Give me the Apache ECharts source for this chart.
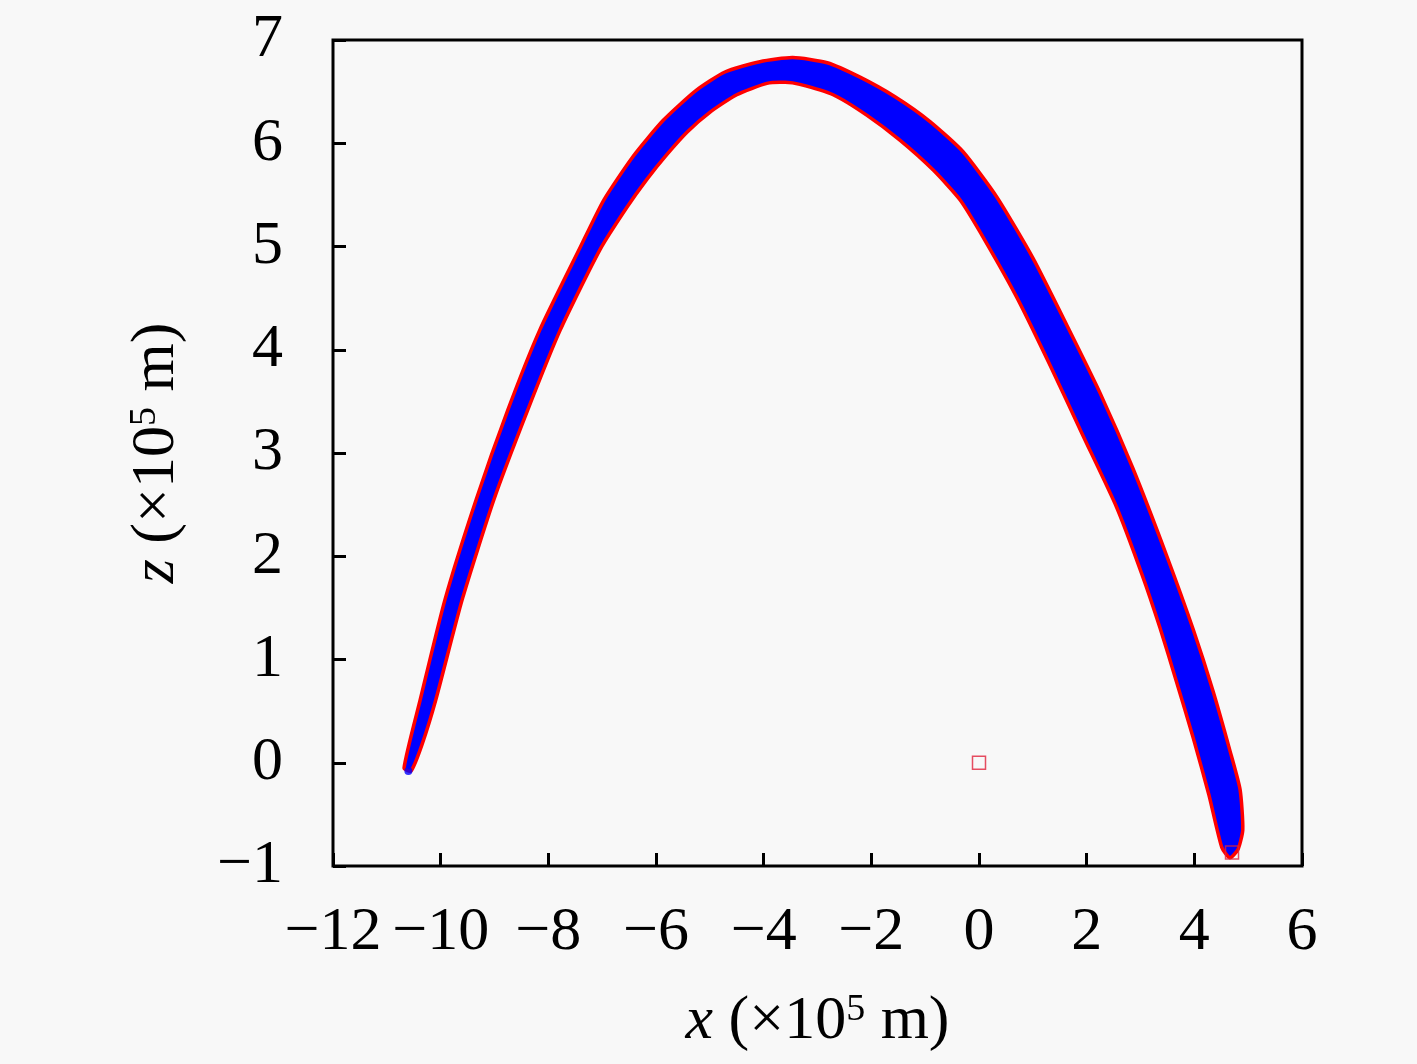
<!DOCTYPE html>
<html>
<head>
<meta charset="utf-8">
<script src="https://cdn.jsdelivr.net/npm/echarts@6/dist/echarts.min.js"></script>
<style>
html,body{margin:0;padding:0;background:#f8f8f8;}
#chart{width:1417px;height:1064px;}
</style>
</head>
<body>
<div id="chart"></div>
<script>
// Axis ticks
const xTicks = [-12, -10, -8, -6, -4, -2, 0, 2, 4, 6];
const zTicks = [-1, 0, 1, 2, 3, 4, 5, 6, 7];

// Outer boundary of the trajectory band (left tip -> apex -> right tip), units of 1e5 m
const outerX = [-10.68,-10.38,-9.92,-9.34,-8.75,-8.16,-7.41,-6.97,-6.43,-5.87,-5.26,-4.72,-4.07,-3.46,-2.82,-2.21,-1.56,-0.91,-0.30,0.33,1.00,1.63,2.25,2.86,3.49,3.98,4.35,4.66,4.85,4.90,4.81,4.66];
const outerZ = [-0.05,0.61,1.58,2.55,3.42,4.19,4.99,5.45,5.87,6.22,6.51,6.69,6.79,6.83,6.78,6.64,6.45,6.21,5.92,5.48,4.89,4.24,3.58,2.85,2.00,1.29,0.69,0.12,-0.26,-0.65,-0.84,-0.92];

// Inner boundary of the band (right tip -> apex -> left tip)
const innerX = [4.51,4.27,3.98,3.66,3.36,3.03,2.56,1.93,1.32,0.71,0.11,-0.35,-0.85,-1.47,-2.08,-2.71,-3.33,-3.60,-3.94,-4.50,-5.00,-5.42,-5.80,-6.17,-6.54,-7.04,-7.78,-8.38,-9.01,-9.60,-10.09,-10.35,-10.55];
const innerZ = [-0.82,-0.31,0.24,0.80,1.31,1.82,2.47,3.17,3.85,4.50,5.06,5.45,5.74,6.03,6.27,6.47,6.57,6.59,6.58,6.47,6.30,6.11,5.89,5.65,5.38,4.97,4.19,3.42,2.55,1.58,0.61,0.17,-0.08];

// Marker points
const squarePts = [[0, 0], [4.70, -0.87]];
const startPt = [[-10.60, -0.08]];

const bandData = [];
for (let i = 0; i < outerX.length; i++) bandData.push([outerX[i], outerZ[i]]);
for (let i = 0; i < innerX.length; i++) bandData.push([innerX[i], innerZ[i]]);

const FONT = '"Liberation Serif", "DejaVu Serif", serif';
const fmt = v => (v < 0 ? '\u2212' + Math.abs(v) : String(v));

const chart = echarts.init(document.getElementById('chart'), null, {renderer: 'canvas'});
const nameRich = {
  i: {fontStyle: 'italic', fontFamily: FONT, fontSize: 62, color: '#000'},
  s: {fontSize: 38, fontFamily: FONT, color: '#000', verticalAlign: 'top', padding: [0, 0, 18, 0]}
};
const option = {
  backgroundColor: '#f8f8f8',
  animation: false,
  grid: {left: 333, right: 115, top: 40, bottom: 198, containLabel: false,
         show: true, borderColor: '#000', borderWidth: 3, backgroundColor: 'transparent'},
  xAxis: {
    type: 'value', min: -12, max: 6, interval: 2,
    axisLine: {show: false, onZero: false},
    axisTick: {show: true, inside: true, length: 13, lineStyle: {color: '#000', width: 3}},
    splitLine: {show: false},
    axisLabel: {show: true, margin: 36, color: '#000', fontFamily: FONT, fontSize: 62,
                formatter: fmt, showMinLabel: true, showMaxLabel: true},
    name: '{i|x} (×10{s|5} m)',
    nameLocation: 'middle', nameGap: 125,
    nameTextStyle: {color: '#000', fontFamily: FONT, fontSize: 62, rich: nameRich}
  },
  yAxis: {
    type: 'value', min: -1, max: 7, interval: 1,
    axisLine: {show: false, onZero: false},
    axisTick: {show: true, inside: true, length: 13, lineStyle: {color: '#000', width: 3}},
    splitLine: {show: false},
    axisLabel: {show: true, margin: 50, color: '#000', fontFamily: FONT, fontSize: 62,
                formatter: fmt, showMinLabel: true, showMaxLabel: true},
    name: '{i|z} (×10{s|5} m)',
    nameLocation: 'middle', nameGap: 145, nameRotate: 90,
    nameTextStyle: {color: '#000', fontFamily: FONT, fontSize: 62, rich: nameRich}
  },
  series: [
    {
      type: 'custom',
      coordinateSystem: 'cartesian2d',
      data: bandData,
      clip: true,
      renderItem: function (params, api) {
        if (params.dataIndex !== 0) return null;
        const pts = bandData.map(p => api.coord(p));
        return {
          type: 'polygon',
          shape: {points: pts, smooth: 0.2},
          style: {fill: '#0000ff', stroke: '#ff0000', lineWidth: 3.5, lineJoin: 'round'}
        };
      },
      silent: true,
      z: 2
    },
    {
      type: 'scatter',
      data: startPt,
      symbol: 'circle', symbolSize: 8,
      itemStyle: {color: '#0000ff'},
      z: 3, silent: true
    },
    {
      type: 'scatter',
      data: squarePts,
      symbol: 'rect', symbolSize: 13,
      itemStyle: {color: 'transparent', borderColor: '#e0203a', borderWidth: 1.5},
      z: 4, silent: true
    }
  ]
};
chart.setOption(option);
</script>
</body>
</html>
